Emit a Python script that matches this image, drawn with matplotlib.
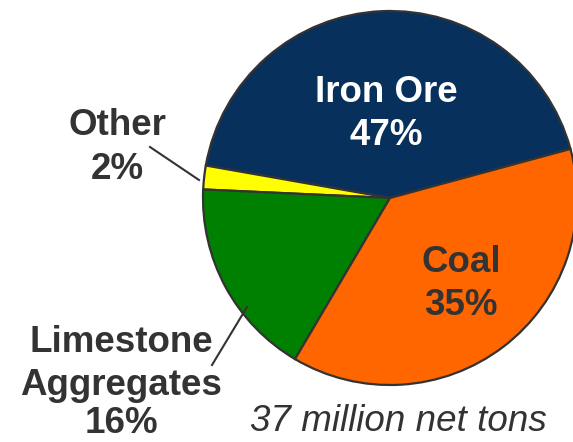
import matplotlib
matplotlib.use("Agg")
import matplotlib.pyplot as plt

categories = ["Iron Ore", "Other", "Limestone\nAggregates", "Coal"]
shares = [43.0, 2.05, 17.25, 37.7]
label_pcts = ["47%", "2%", "16%", "35%"]
colors = ["#08305C", "#FFFF00", "#008000", "#FF6600"]
subtitle = "37 million net tons"

W, H = 573, 442
fig = plt.figure(figsize=(W / 100, H / 100), dpi=100)

cx, cy, r = 390, 198, 187
ax = fig.add_axes([(cx - r) / W, (H - cy - r) / H, 2 * r / W, 2 * r / H])
ax.pie(shares, colors=colors, startangle=15.2, counterclock=True, radius=1,
       wedgeprops=dict(edgecolor="#333333", linewidth=1.6))
ax.set_xlim(-1, 1)
ax.set_ylim(-1, 1)
ax.set_aspect("equal")
ax.axis("off")

FONT = "Liberation Sans"
SIZE = 26.5
dark = "#333333"


def t(x, y, s, color=dark, style="normal", weight="bold"):
    fig.text(x / W, 1 - y / H, s, ha="center", va="baseline", color=color,
             fontsize=SIZE, fontfamily=FONT, fontweight=weight, fontstyle=style)


# Iron Ore (inside, white)
t(386, 102, categories[0], color="white")
t(386, 145, label_pcts[0], color="white")
# Coal (inside)
t(461, 272, categories[3])
t(461, 315, label_pcts[3])
# Other (outside)
t(117, 135, categories[1])
t(117, 179, label_pcts[1])
# Limestone Aggregates (outside)
lines = categories[2].split("\n")
t(121, 352, lines[0])
t(121, 395, lines[1])
t(121, 433, label_pcts[2])

# Leader lines
fig.add_artist(plt.Line2D([150 / W, 199 / W], [1 - 147 / H, 1 - 180 / H],
                          color=dark, linewidth=1.5))
fig.add_artist(plt.Line2D([212 / W, 247 / W], [1 - 365 / H, 1 - 307 / H],
                          color=dark, linewidth=1.5))

# Subtitle
t(398, 431, subtitle, style="italic", weight="normal")

fig.savefig("out.png", dpi=100)
